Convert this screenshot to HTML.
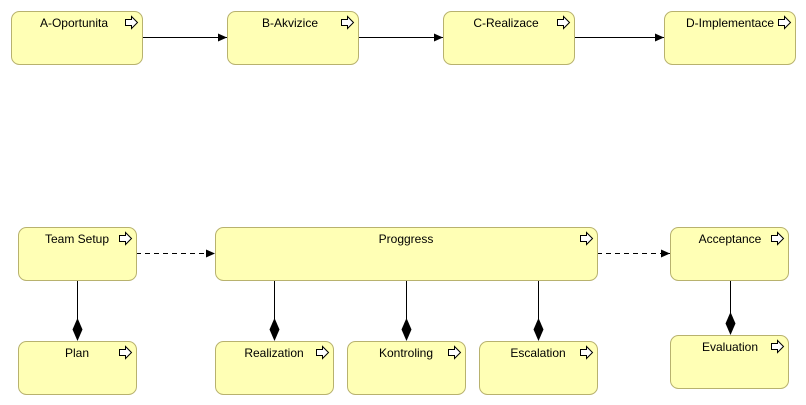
<!DOCTYPE html>
<html><head><meta charset="utf-8"><style>body{margin:0;background:#fff}svg{display:block}text{font-family:"Liberation Sans",sans-serif;font-size:12px;fill:#000}</style></head><body>
<svg width="806" height="405" viewBox="0 0 806 405" xmlns="http://www.w3.org/2000/svg">
<defs>
<marker id="ar" markerWidth="10" markerHeight="8" refX="9" refY="4" orient="auto" markerUnits="userSpaceOnUse"><path d="M0,0 L9,4 L0,8 z" fill="#000"/></marker>
<g id="ic"><path d="M0,-3 h6 v-3 l6,6 l-6,6 v-3 h-6 z" fill="#fff" stroke="#000" stroke-width="1"/></g>
</defs>
<g stroke="#000" stroke-width="1" fill="none">
<line x1="143" y1="37.5" x2="227" y2="37.5" marker-end="url(#ar)"/>
<line x1="358" y1="37.5" x2="443" y2="37.5" marker-end="url(#ar)"/>
<line x1="574" y1="37.5" x2="664" y2="37.5" marker-end="url(#ar)"/>
<line x1="136" y1="253.5" x2="215" y2="253.5" stroke-dasharray="5,4" marker-end="url(#ar)"/>
<line x1="597" y1="253.5" x2="670" y2="253.5" stroke-dasharray="5,4" marker-end="url(#ar)"/>
<line x1="77.5" y1="280" x2="77.5" y2="320"/>
<line x1="274.5" y1="280" x2="274.5" y2="320"/>
<line x1="406.5" y1="280" x2="406.5" y2="320"/>
<line x1="538.5" y1="280" x2="538.5" y2="320"/>
<line x1="730.5" y1="280" x2="730.5" y2="314"/>
</g>
<g fill="#000">
<path d="M77.5,318 l5,11.5 l-5,11.5 l-5,-11.5 z"/>
<path d="M274.5,318 l5,11.5 l-5,11.5 l-5,-11.5 z"/>
<path d="M406.5,318 l5,11.5 l-5,11.5 l-5,-11.5 z"/>
<path d="M538.5,318 l5,11.5 l-5,11.5 l-5,-11.5 z"/>
<path d="M730.5,312 l5,11.5 l-5,11.5 l-5,-11.5 z"/>
</g>
<g fill="#ffffb5" stroke="#b8b26e" stroke-width="1">
<rect x="11.5" y="11.5" width="131" height="53" rx="8"/>
<rect x="227.5" y="11.5" width="131" height="53" rx="8"/>
<rect x="443.5" y="11.5" width="131" height="53" rx="8"/>
<rect x="664.5" y="11.5" width="131" height="53" rx="8"/>
<rect x="18.5" y="227.5" width="118" height="53" rx="8"/>
<rect x="215.5" y="227.5" width="382" height="53" rx="8"/>
<rect x="670.5" y="227.5" width="118" height="53" rx="8"/>
<rect x="18.5" y="341.5" width="118" height="53" rx="8"/>
<rect x="215.5" y="341.5" width="118" height="53" rx="8"/>
<rect x="347.5" y="341.5" width="118" height="53" rx="8"/>
<rect x="479.5" y="341.5" width="118" height="53" rx="8"/>
<rect x="670.5" y="335.5" width="118" height="53" rx="8"/>
</g>
<use href="#ic" x="125.5" y="22.5"/><use href="#ic" x="341.5" y="22.5"/><use href="#ic" x="557.5" y="22.5"/><use href="#ic" x="778.5" y="22.5"/>
<use href="#ic" x="119.5" y="238.5"/><use href="#ic" x="580.5" y="238.5"/><use href="#ic" x="771.5" y="238.5"/>
<use href="#ic" x="119.5" y="352.5"/><use href="#ic" x="316.5" y="352.5"/><use href="#ic" x="448.5" y="352.5"/><use href="#ic" x="580.5" y="352.5"/><use href="#ic" x="771.5" y="346.5"/>
<g text-anchor="middle">
<text x="74" y="27">A-Oportunita</text>
<text x="290" y="27">B-Akvizice</text>
<text x="506" y="27">C-Realizace</text>
<text x="730" y="27">D-Implementace</text>
<text x="77" y="243">Team Setup</text>
<text x="406" y="243">Proggress</text>
<text x="730" y="243">Acceptance</text>
<text x="77" y="357">Plan</text>
<text x="274" y="357">Realization</text>
<text x="406" y="357">Kontroling</text>
<text x="538" y="357">Escalation</text>
<text x="730" y="351">Evaluation</text>
</g>
</svg>
</body></html>
